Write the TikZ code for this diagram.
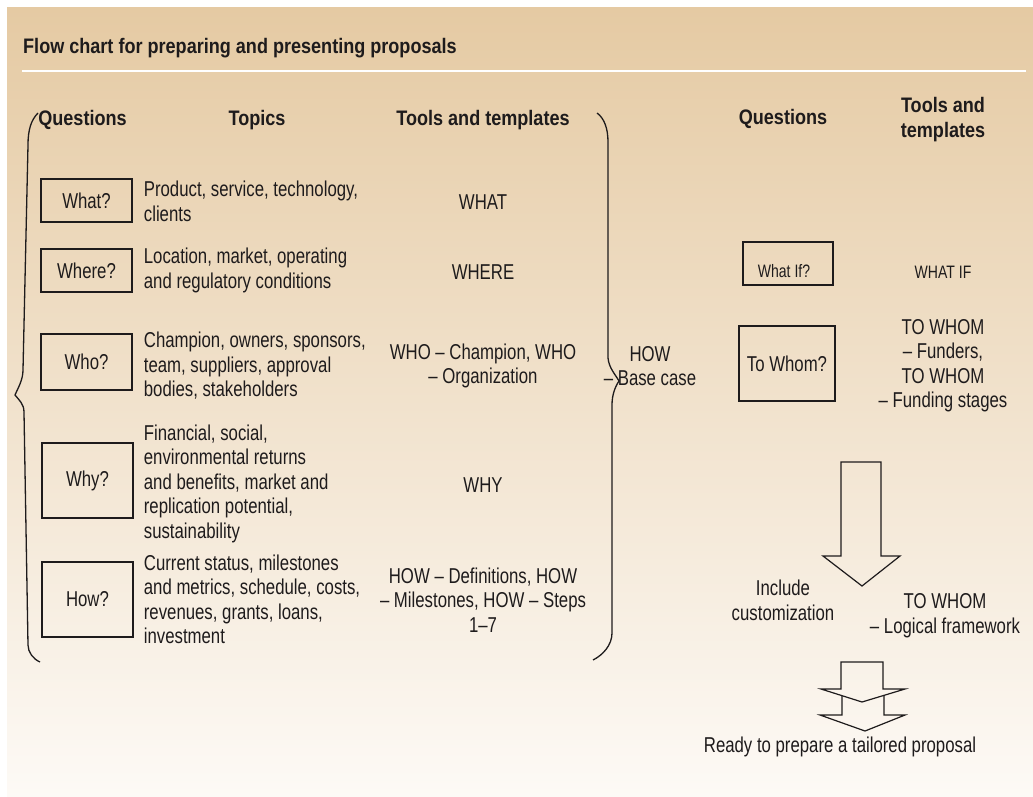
\documentclass[tikz,border=0pt]{standalone}
\usepackage{fontspec}
\setmainfont{Liberation Sans}[FakeStretch=0.78]
\newfontfamily\headfont{Liberation Sans}[FakeStretch=0.86]
\usetikzlibrary{positioning,calc}
\definecolor{sand}{RGB}{229,202,163}
\definecolor{cream}{RGB}{253,250,246}
\definecolor{ink}{RGB}{30,27,28}

\begin{document}
\begin{tikzpicture}[x=1pt,y=-1pt,
  every node/.style={text=ink,inner sep=0pt,font=\fontsize{21.5}{24.5}\selectfont},
  head/.style={font=\headfont\bfseries\fontsize{21}{25}\selectfont,align=center},
  qbox/.style={draw=ink,line width=1.4pt,minimum width=91pt},
  topic/.style={anchor=west,align=left},
  tool/.style={align=center},
  small/.style={font=\fontsize{18}{20}\selectfont},
  brace/.style={draw=ink,line width=1.3pt},
  blockarrow/.style={draw=ink,line width=1.2pt,line join=miter}]
% Background and rule
\useasboundingbox (0,0) rectangle (1033,797);
\shade[top color=sand,bottom color=cream] (7,8) rectangle (1033,797);
\draw[white,line width=2.5pt] (22,71) -- (1026,71);
\node (title) [head,anchor=west] at (23,48) {Flow chart for preparing and presenting proposals};
% Headers
\node (hq) [head] at (82.5,120) {Questions};
\node (ht) [head] at (257,120) {Topics};
\node (hk) [head] at (483,120) {Tools and templates};
\node (hq2) [head] at (783,119) {Questions};
\node (hk2) [head] at (943,119.5) {Tools and\\templates};
% Left block: questions
\node (what) [qbox,minimum height=43pt] at (86.5,200.5) {What?};
\node (where) [qbox,minimum height=43pt] at (86.5,270.5) {Where?};
\node (who) [qbox,minimum height=56pt] at (86.5,362) {Who?};
\node (why) [qbox,minimum height=75pt] at (87.5,480.5) {Why?};
\node (how) [qbox,minimum height=75pt] at (87.5,599.5) {How?};
% Topics
\node (twhat) [topic,right=11pt of what,yshift=-1pt] {Product, service, technology,\\clients};
\node (twhere) [topic,right=11pt of where] {Location, market, operating\\and regulatory conditions};
\node (twho) [topic,right=11pt of who,yshift=-4pt] {Champion, owners, sponsors,\\team, suppliers, approval\\bodies, stakeholders};
\node (twhy) [topic,right=10pt of why,yshift=-3pt] {Financial, social,\\environmental returns\\and benefits, market and\\replication potential,\\sustainability};
\node (thow) [topic,right=10pt of how] {Current status, milestones\\and metrics, schedule, costs,\\revenues, grants, loans,\\investment};
% Tools and templates
\node (kwhat) [tool] at (483,202) {WHAT};
\node (kwhere) [tool] at (483,272) {WHERE};
\node (kwho) [tool] at (483,366) {WHO -- Champion, WHO\\-- Organization};
\node (kwhy) [tool] at (483,485) {WHY};
\node (khow) [tool] at (483,600) {HOW -- Definitions, HOW\\-- Milestones, HOW -- Steps\\1--7};
% Braces
\draw[brace] (38,113) .. controls (31,120) and (28,130) .. (28,145) -- (23,370)
  .. controls (23,380) and (18,388) .. (15,395) .. controls (19,400) and (24,404) .. (24,412)
  -- (28,645) .. controls (28,652) and (33,659) .. (40,662);
\draw[brace] (597,113) .. controls (604,118) and (608,128) .. (608,142) -- (608,358)
  .. controls (609,368) and (615,374) .. (619,381) .. controls (615,387) and (612,395) .. (612,405)
  -- (612,633) .. controls (612,645) and (603,655) .. (593,660);
\node (base) [tool] at (650,366) {HOW\\-- Base case};
% Right block
\node (whatif) [qbox,minimum width=90pt,minimum height=43pt] at (788,263.5) {};
\node (whatifq) [small] at ($(whatif)+(-4,8)$) {What If?};
\node (kwhatif) [small] at (943,272) {WHAT IF};
\node (towhom) [qbox,minimum width=96pt,minimum height=75pt] at (787,363.5) {To Whom?};
\node (ktowhom) [tool] at (943,365.5) {TO WHOM\\-- Funders,\\TO WHOM\\-- Funding stages};
% Arrows
\draw[blockarrow] (841,462) -- (881,462) -- (881,556) -- (900,556) -- (862,586) -- (823,556) -- (841,556) -- cycle;
\node (incl) [tool] at (783,600.5) {Include\\customization};
\node (klog) [tool] at (945,615.5) {TO WHOM\\-- Logical framework};
\draw[blockarrow] (842,696) -- (842,715) -- (820,715) -- (865,731) -- (905,715) -- (884,715) -- (884,696);
\draw[blockarrow] (841,662) -- (883,662) -- (883,689) -- (905,689) -- (862,702) -- (821,689) -- (841,689) -- cycle;
\node (ready) at (840,747) {Ready to prepare a tailored proposal};
\end{tikzpicture}
\end{document}
